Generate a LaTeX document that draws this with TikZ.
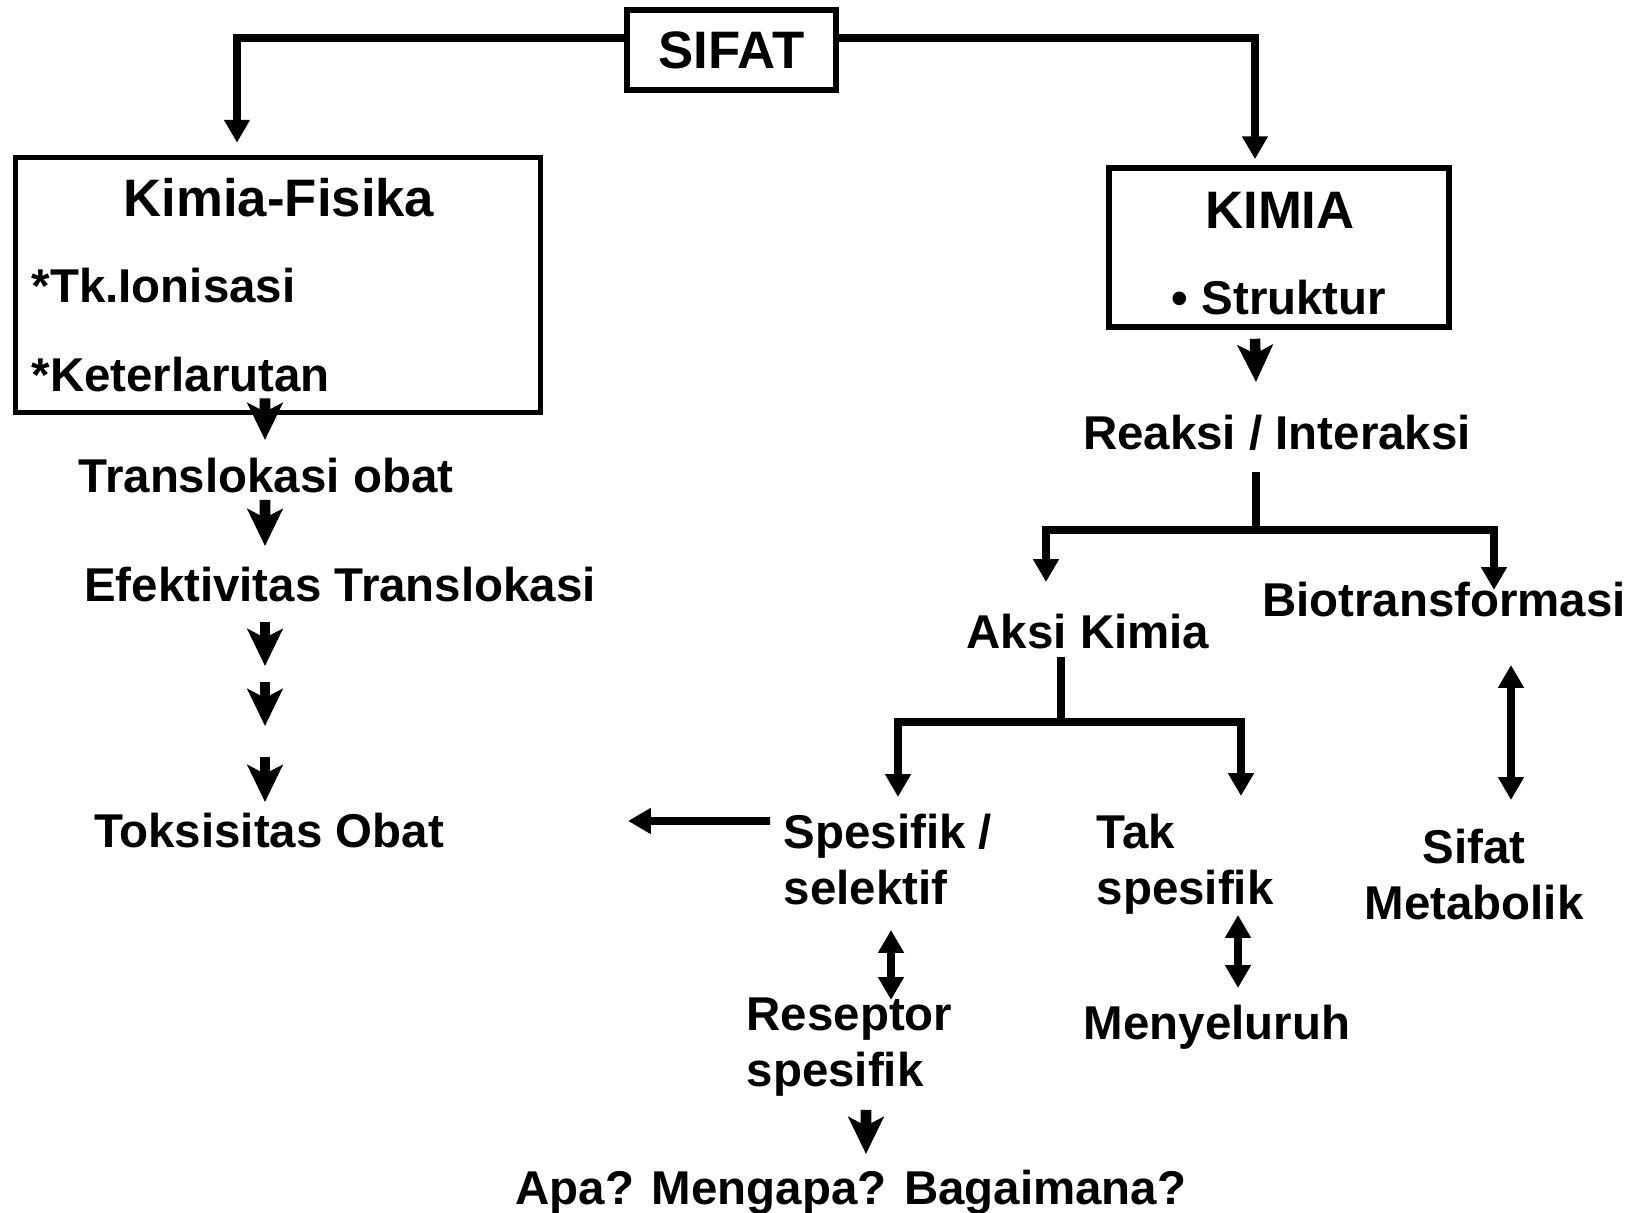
\documentclass[tikz,border=0pt]{standalone}
\usepackage{fontspec}
\setmainfont{Liberation Sans}
\usetikzlibrary{arrows.meta}

\begin{document}
\begin{tikzpicture}[
    box/.style={rectangle, draw, line width=1.6pt, inner sep=0pt},
    txt/.style={inner sep=0pt, font=\bfseries\fontsize{13.5}{16.2}\selectfont},
    title/.style={inner sep=0pt, font=\bfseries\fontsize{15}{18}\selectfont},
    link/.style={line width=2.2pt},
    arrow/.style={-{Triangle[width=7pt,length=6.5pt]}, line width=2.2pt},
    darrow/.style={{Triangle[width=7pt,length=6.5pt]}-{Triangle[width=7pt,length=6.5pt]}, line width=2.2pt},
    stub/.style={-{Stealth[width=10pt,length=10.5pt,inset=2.5pt]}, line width=3pt}
]
    \useasboundingbox (0,0) rectangle (16.44,12.13);

    % boxes
    \node[box, title, minimum width=2.09cm, minimum height=0.80cm] (sifat) at (7.315, 11.63) {SIFAT};
    \node[box, minimum width=5.25cm, minimum height=2.55cm] (kf)    at (2.78, 9.28)  {};
    \node[box, minimum width=3.40cm, minimum height=1.59cm] (kimia) at (12.79, 9.655) {};

    \node[title, anchor=base]      (kftitle) at (2.79, 9.96)  {Kimia-Fisika};
    \node[txt, anchor=base west]   (ion)     at (0.31, 9.10)  {*Tk.Ionisasi};
    \node[txt, anchor=base west]   (larut)   at (0.31, 8.21)  {*Keterlarutan};
    \node[title, anchor=base]      (kmtitle) at (12.80, 9.84) {KIMIA};
    \node[txt, anchor=base]        (struk)   at (12.79, 8.98) {• Struktur};

    % left column
    \node[txt, anchor=base] (trans) at (2.66, 7.20) {Translokasi obat};
    \node[txt, anchor=base] (efek)  at (3.40, 6.11) {Efektivitas Translokasi};
    \node[txt, anchor=base] (tox)   at (2.69, 3.65) {Toksisitas Obat};

    % right side (base of a two-line node = its last line)
    \node[txt, anchor=base] (reaksi) at (12.77, 7.63) {Reaksi / Interaksi};
    \node[txt, anchor=base] (aksi)   at (10.88, 5.64) {Aksi Kimia};
    \node[txt, anchor=base] (bio)    at (14.44, 5.96) {Biotransformasi};
    \node[txt, anchor=base west, align=left]   (spes)  at (7.83, 3.08)  {Spesifik /\\selektif};
    \node[txt, anchor=base west, align=left]   (tak)   at (10.96, 3.08) {Tak\\spesifik};
    \node[txt, anchor=base, align=center]      (metab) at (14.74, 2.93) {Sifat\\Metabolik};
    \node[txt, anchor=base west, align=left]   (resep) at (7.46, 1.26)  {Reseptor\\spesifik};
    \node[txt, anchor=base] (menyel) at (12.17, 1.73) {Menyeluruh};
    \node[txt, anchor=base] (apa)    at (8.51, 0.08)  {Apa? Mengapa? Bagaimana?};

    % connectors
    \coordinate (topline) at (0, 11.75);
    \draw[arrow] (sifat.west |- topline) -| ([xshift=-0.41cm, yshift=0.12cm]kf.north);
    \draw[arrow] (sifat.east |- topline) -| ([xshift=-0.24cm, yshift=0.06cm]kimia.north);

    \draw[stub] ([xshift=-0.13cm, yshift=0.17cm]kf.south) -- ([xshift=-0.01cm, yshift=0.53cm]trans.base);
    \draw[stub] ([xshift=-0.01cm, yshift=-0.07cm]trans.base) -- ([xshift=-0.75cm, yshift=0.56cm]efek.base);
    \foreach \ya/\yb in {-0.20/-0.64, -0.80/-1.24, -1.55/-2.00}
        \draw[stub] ([xshift=-0.75cm, yshift=\ya cm]efek.base) -- ([xshift=-0.75cm, yshift=\yb cm]efek.base);

    \draw[stub] ([xshift=-0.24cm, yshift=-0.09cm]kimia.south) -- ([xshift=-0.21cm, yshift=0.68cm]reaksi.base);
    \draw[link] ([xshift=-0.21cm, yshift=-0.22cm]reaksi.base) -- ++(0,-0.58) coordinate (rj);
    \draw[arrow] (rj) -| ([xshift=-0.42cm, yshift=0.67cm]aksi.base);
    \draw[arrow] (rj) -| ([xshift=0.50cm, yshift=0.27cm]bio.base);

    \draw[link] ([xshift=-0.27cm, yshift=-0.08cm]aksi.base) -- ++(0,-0.65) coordinate (aj);
    \draw[arrow] (aj) -| ([xshift=1.15cm, yshift=1.08cm]spes.base west);
    \draw[arrow] (aj) -| ([xshift=1.45cm, yshift=1.09cm]tak.base west);

    \draw[darrow] ([xshift=0.67cm, yshift=-0.48cm]bio.base) -- ([xshift=0.37cm, yshift=1.20cm]metab.base);
    \draw[darrow] ([xshift=1.08cm, yshift=-0.25cm]spes.base west) -- ([xshift=1.45cm, yshift=0.87cm]resep.base west);
    \draw[darrow] ([xshift=1.42cm, yshift=-0.10cm]tak.base west) -- ([xshift=0.21cm, yshift=0.52cm]menyel.base);
    \draw[stub] ([xshift=1.20cm, yshift=-0.23cm]resep.base west) -- ([xshift=0.15cm, yshift=0.51cm]apa.base);
    \draw[arrow] ([xshift=-0.13cm, yshift=0.84cm]spes.base west) -- ([xshift=3.59cm, yshift=0.27cm]tox.base);
\end{tikzpicture}
\end{document}
